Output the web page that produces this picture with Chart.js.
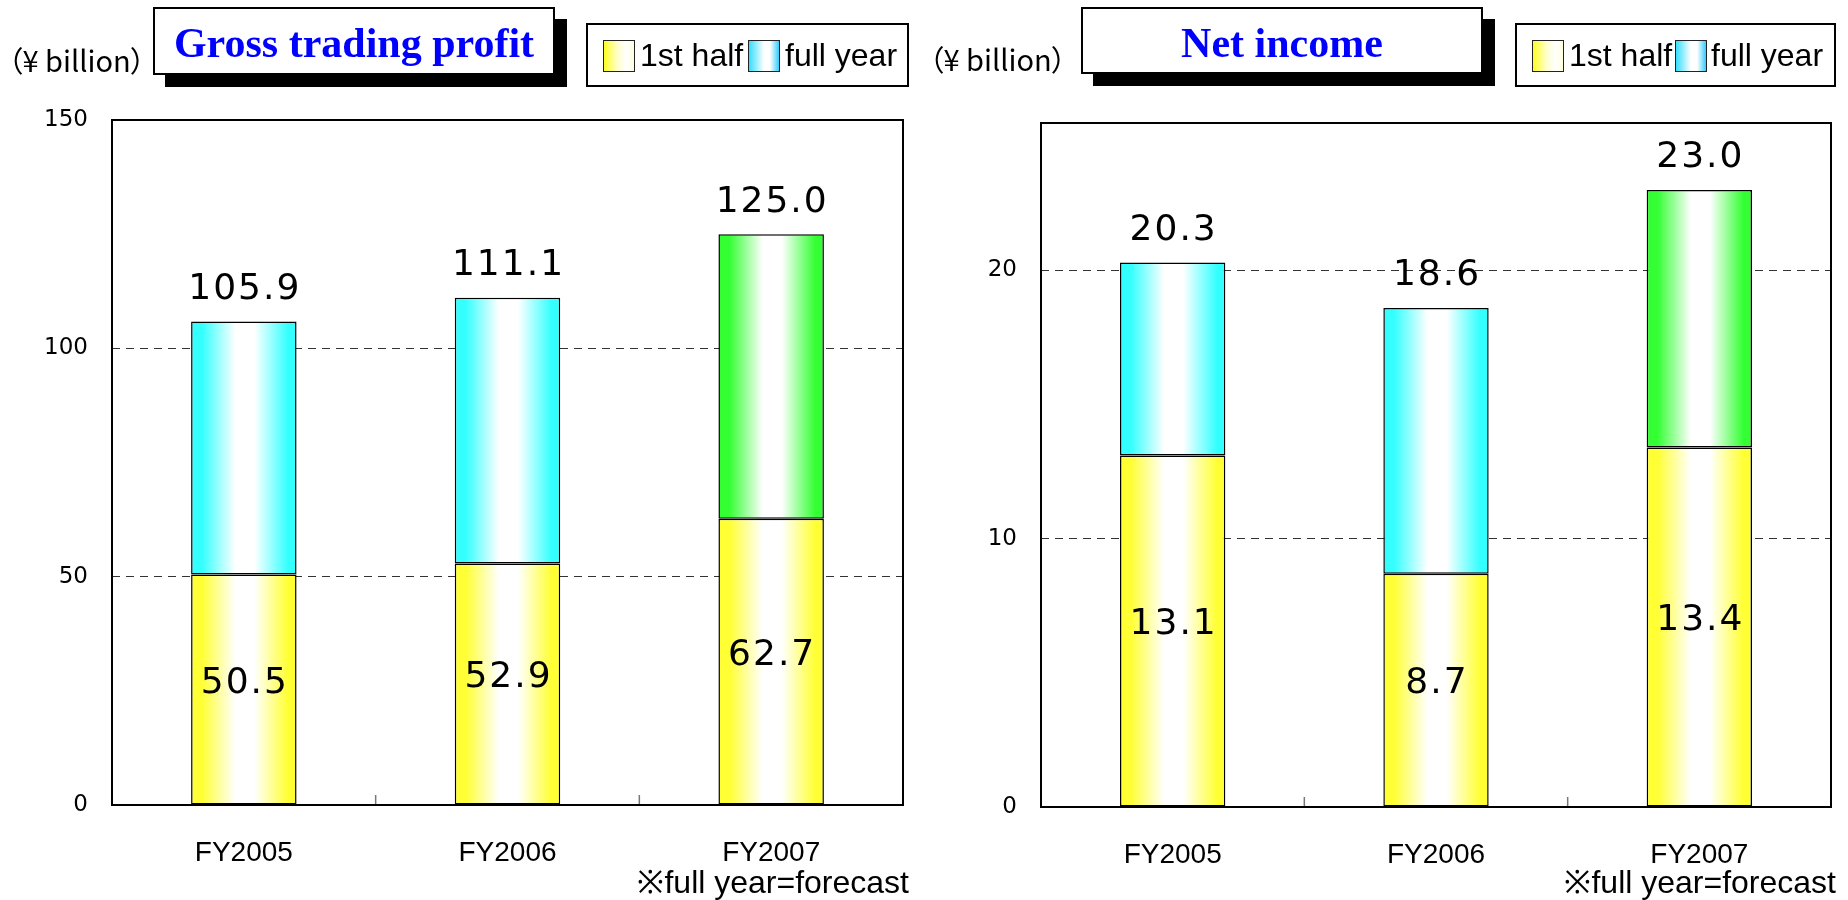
<!DOCTYPE html>
<html>
<head>
<meta charset="utf-8">
<script src="https://cdn.jsdelivr.net/npm/chart.js@4.4.1/dist/chart.umd.min.js"></script>
<style>
  body { margin: 0; width: 1848px; height: 900px; position: relative; overflow: hidden; background: #fff; font-family: "Liberation Sans", Arial, sans-serif; }
  .panel { position: absolute; top: 0; width: 924px; height: 900px; }
  .panel canvas { position: absolute; left: 0; top: 0; }
  .unit { position: absolute; font-family: "Noto Sans CJK JP", sans-serif; font-feature-settings: "palt"; font-size: 29px; line-height: 32px; color: #000; white-space: nowrap; }
  .title { position: absolute; box-sizing: border-box; border: 2px solid #000; background: #fff; box-shadow: 12px 12px 0 #000;
           color: #0000ff; font-family: "Liberation Serif", serif; font-weight: bold; font-size: 42px;
           display: flex; align-items: center; justify-content: center; padding-top: 4px; }
  .legend { position: absolute; box-sizing: border-box; border: 2px solid #000; background: #fff; width: 323px; height: 64px; }
  .legend .sw { position: absolute; top: 15px; width: 30px; height: 30px; border: 1.5px solid #222; }
  .legend .txt { position: absolute; top: 0; line-height: 60px; font-size: 32px; color: #000; white-space: nowrap; }
  .sw.first { background: linear-gradient(to right, #ffff22 0%, #ffffcc 45%, #ffffff 75%, #ffffdd 100%); }
  .sw.full  { background: linear-gradient(to right, #33ddff 0%, #ffffff 50%, #ffffff 70%, #33ccff 100%); }
  .note { position: absolute; font-size: 32px; line-height: 34px; color: #000; white-space: nowrap; text-align: right; }
</style>
</head>
<body>
<div class="panel" style="left:0">
  <canvas id="grossChart" width="924" height="900"></canvas>
  <div class="unit" style="left:8px; top:43px">（¥ billion）</div>
  <div class="title" style="left:153px; top:7px; width:402px; height:68px">Gross trading profit</div>
  <div class="legend" style="left:586px; top:23px">
    <div class="sw first" style="left:15px"></div><div class="txt" style="left:52px">1st half</div>
    <div class="sw full" style="left:160px"></div><div class="txt" style="left:197px">full year</div>
  </div>
  <div class="note" style="right:15px; top:865px">※full year=forecast</div>
</div>
<div class="panel" style="left:924px">
  <canvas id="netChart" width="924" height="900"></canvas>
  <div class="unit" style="left:5px; top:42px">（¥ billion）</div>
  <div class="title" style="left:157px; top:7px; width:402px; height:67px">Net income</div>
  <div class="legend" style="left:591px; top:23px; width:321px">
    <div class="sw first" style="left:15px"></div><div class="txt" style="left:52px">1st half</div>
    <div class="sw full" style="left:158px"></div><div class="txt" style="left:194px">full year</div>
  </div>
  <div class="note" style="right:12px; top:865px">※full year=forecast</div>
</div>

<script>
// fiscal years and results (¥ billion)
const years = ['FY2005', 'FY2006', 'FY2007'];
const grossFirstHalf = [50.5, 52.9, 62.7];
const grossFullYear = [105.9, 111.1, 125.0];
const netFirstHalf = [13.1, 8.7, 13.4];
const netFullYear = [20.3, 18.6, 23.0];
const grossTicks = [0, 50, 100, 150];
const netTicks = [0, 10, 20];

// FY2007 full year is a forecast, drawn in green
const fullYearColors = ['#33ffff', '#33ffff', '#33ff33'];
const firstHalfColor = '#ffff33';

// horizontal shading across each bar: colour at the edges, white in the middle
function shaded(colorAt) {
  return (c) => {
    const chart = c.chart;
    const color = colorAt(c.dataIndex);
    if (!chart.chartArea || c.dataIndex === undefined) return color;
    const x = chart.scales.x;
    const cx = x.getPixelForValue(c.dataIndex);
    const half = x.width / chart.data.labels.length * 0.4 / 2;
    const g = chart.ctx.createLinearGradient(cx - half, 0, cx + half, 0);
    g.addColorStop(0, color);
    g.addColorStop(0.1, color);
    g.addColorStop(0.42, '#ffffff');
    g.addColorStop(0.6, '#ffffff');
    g.addColorStop(0.92, color);
    g.addColorStop(1, color);
    return g;
  };
}

// plot frame plus the small marks between categories
const frame = {
  id: 'frame',
  afterDraw(chart) {
    const { ctx, chartArea: a, scales: { x } } = chart;
    ctx.save();
    ctx.strokeStyle = '#777';
    ctx.lineWidth = 1.5;
    for (let i = 1; i < x.ticks.length; i++) {
      const px = (x.getPixelForTick(i - 1) + x.getPixelForTick(i)) / 2;
      ctx.beginPath();
      ctx.moveTo(px, a.bottom);
      ctx.lineTo(px, a.bottom - 10);
      ctx.stroke();
    }
    ctx.strokeStyle = '#000';
    ctx.lineWidth = 2;
    ctx.strokeRect(a.left, a.top, a.width, a.height);
    ctx.restore();
  }
};

// totals above the bars, first-half values inside the lower part
const valueLabels = {
  id: 'valueLabels',
  afterDatasetsDraw(chart) {
    const ctx = chart.ctx;
    const lower = chart.getDatasetMeta(0).data;
    const upper = chart.getDatasetMeta(1).data;
    const ds = chart.data.datasets;
    ctx.save();
    ctx.font = '36px "DejaVu Sans"';
    ctx.letterSpacing = '2px';
    ctx.fillStyle = '#000';
    ctx.textAlign = 'center';
    ctx.textBaseline = 'middle';
    lower.forEach((bar, i) => {
      ctx.fillText(ds[0].data[i].toFixed(1), bar.x + 1, (bar.y + bar.base) / 2 - 6);
      ctx.fillText(ds[1].data[i][1].toFixed(1), upper[i].x + 1, upper[i].y - 32);
    });
    ctx.restore();
  }
};

function makeChart(id, firstHalf, fullYear, ticks, yMax, geo) {
  const step = ticks[1] - ticks[0];
  return new Chart(document.getElementById(id), {
    type: 'bar',
    data: {
      labels: years,
      datasets: [
        {
          label: '1st half',
          data: firstHalf,
          grouped: false,
          backgroundColor: shaded(() => firstHalfColor),
          borderColor: '#000',
          borderWidth: 1.5,
          borderSkipped: false
        },
        {
          label: 'full year',
          data: years.map((_, i) => [firstHalf[i], fullYear[i]]),
          grouped: false,
          backgroundColor: shaded(i => fullYearColors[i]),
          borderColor: '#000',
          borderWidth: 1.5,
          borderSkipped: false
        }
      ]
    },
    options: {
      responsive: false,
      animation: false,
      layout: { padding: { top: geo.top, right: geo.right, left: 0, bottom: 0 } },
      categoryPercentage: 1,
      barPercentage: 0.4,
      plugins: { legend: { display: false }, tooltip: { enabled: false } },
      scales: {
        x: {
          grid: { display: false },
          border: { display: false },
          ticks: { color: '#000', padding: 23, font: { family: 'Liberation Sans', size: 28 } },
          afterFit: s => { s.height = geo.xHeight; }
        },
        y: {
          min: 0,
          max: yMax,
          afterBuildTicks: s => { s.ticks = s.ticks.filter(t => ticks.includes(t.value)); },
          ticks: { stepSize: step, color: '#000', padding: 24, font: { family: 'DejaVu Sans', size: 23 } },
          grid: { color: '#333', lineWidth: 1, drawTicks: false },
          border: { display: false, dash: [8, 6] },
          afterFit: s => { s.width = geo.yWidth; }
        }
      }
    },
    plugins: [valueLabels, frame]
  });
}

makeChart('grossChart', grossFirstHalf, grossFullYear, grossTicks, 150,
  { top: 120, right: 21, yWidth: 112, xHeight: 95 });
makeChart('netChart', netFirstHalf, netFullYear, netTicks, 25.5,
  { top: 123, right: 17, yWidth: 117, xHeight: 93 });
</script>
</body>
</html>
